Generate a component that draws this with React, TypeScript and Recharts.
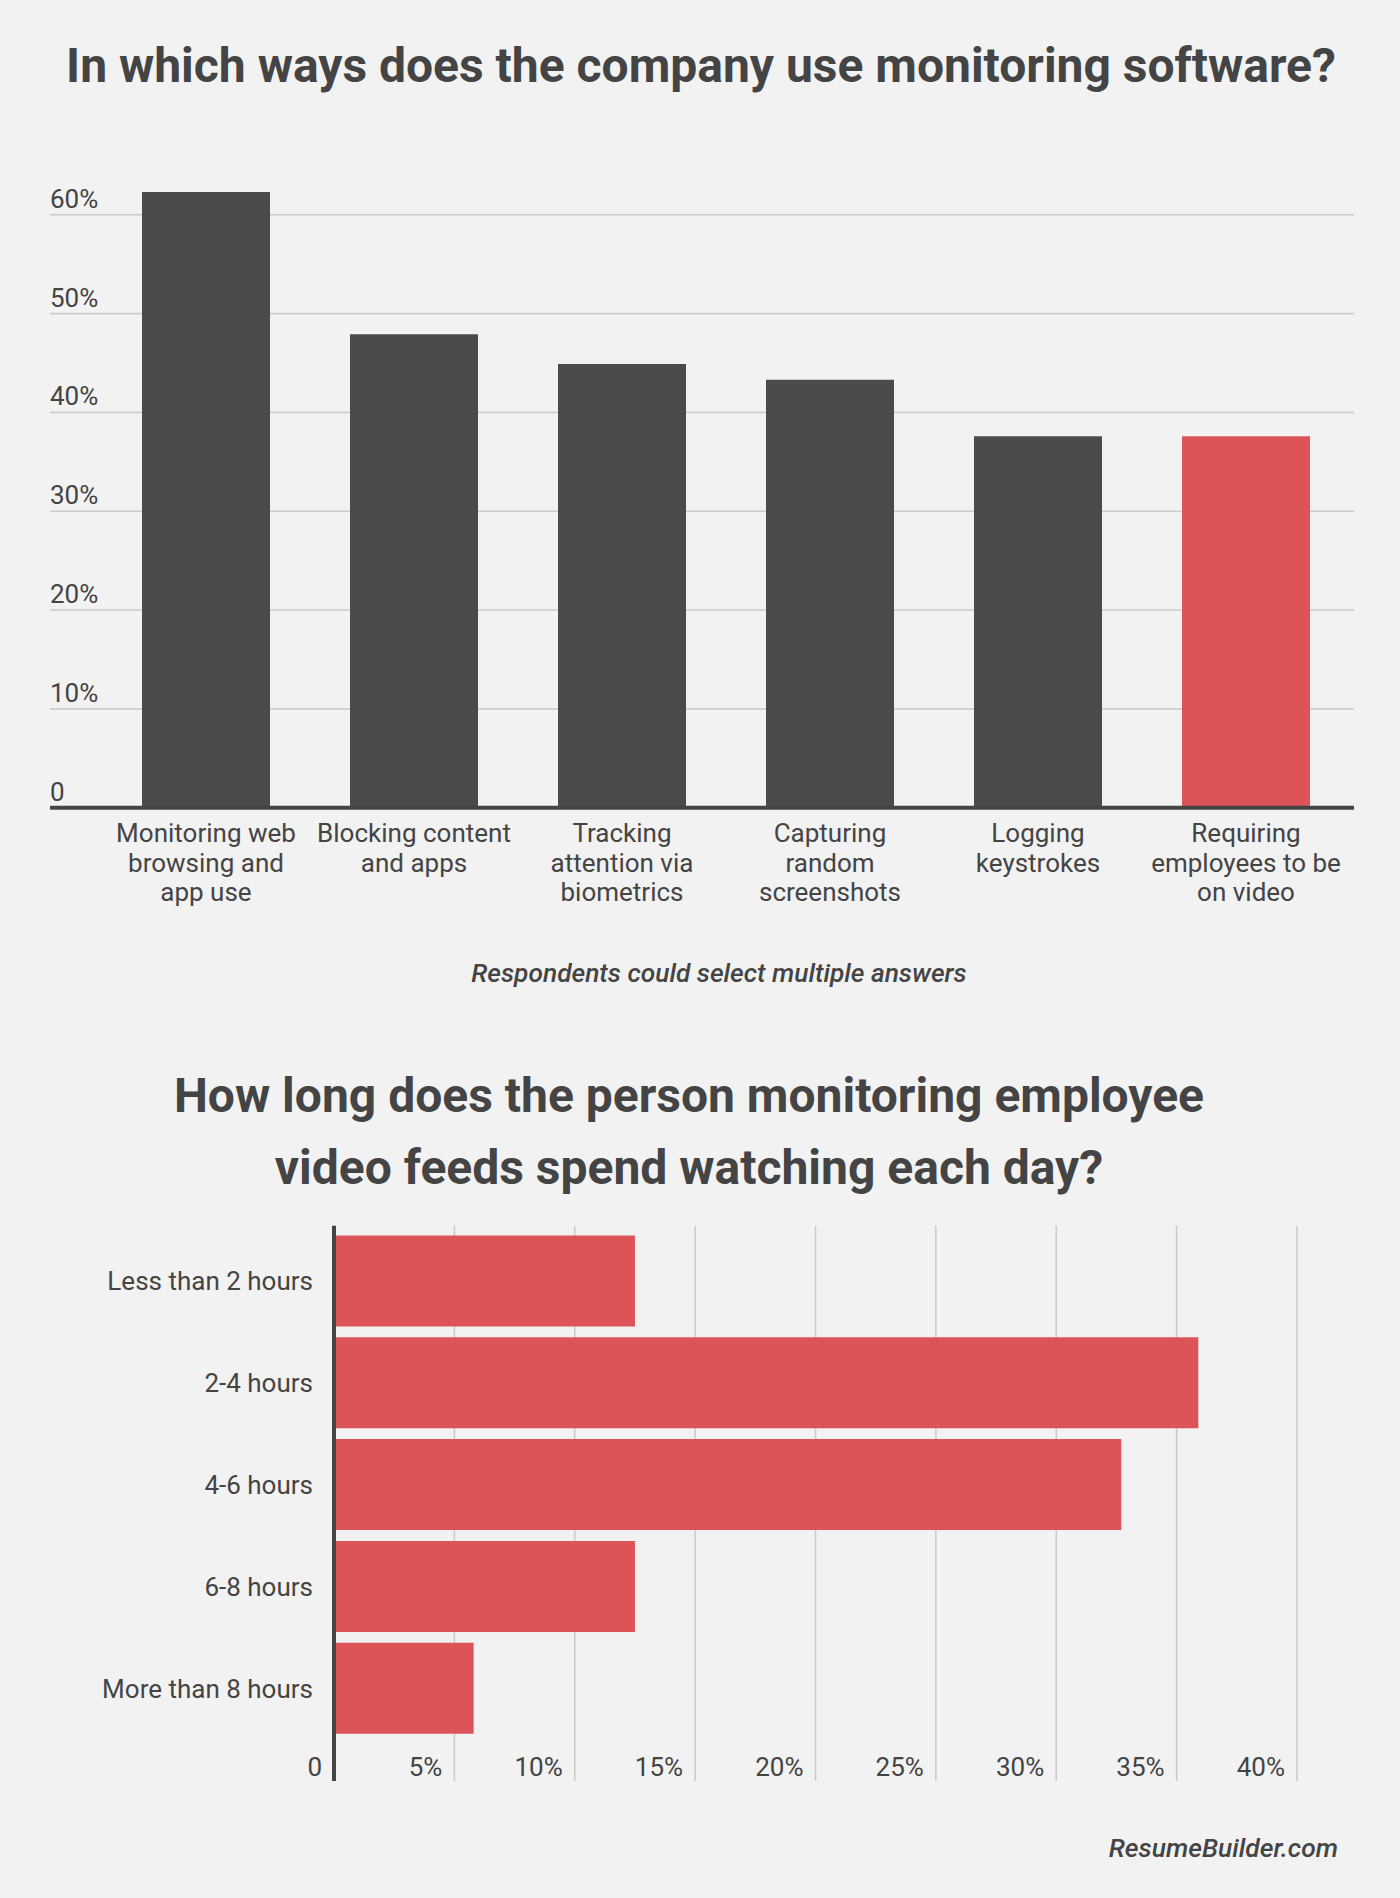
import { BarChart, Bar, XAxis, YAxis, CartesianGrid, Cell, ReferenceLine } from 'recharts'

// chart 1: ways the company uses monitoring software (% of respondents)
const usageCategories = [
  'Monitoring web\nbrowsing and\napp use',
  'Blocking content\nand apps',
  'Tracking\nattention via\nbiometrics',
  'Capturing\nrandom\nscreenshots',
  'Logging\nkeystrokes',
  'Requiring\nemployees to be\non video',
]
const usageValues = [62.3, 47.9, 44.9, 43.3, 37.6, 37.6]
const usageTicks = [0, 10, 20, 30, 40, 50, 60]

// chart 2: time spent watching video feeds each day (%)
const watchCategories = ['Less than 2 hours', '2-4 hours', '4-6 hours', '6-8 hours', 'More than 8 hours']
const watchValues = [12.5, 35.9, 32.7, 12.5, 5.8]
const watchTicks = [0, 5, 10, 15, 20, 25, 30, 35, 40]

const DARK = '#4b4b4b'
const RED = '#dc5457'
const TEXT = '#444444'
const GRID = '#cccccc'
const BG = '#f2f2f2'
const FONT = 'Roboto, "Noto Sans", sans-serif'

const pct = (v: number) => (v === 0 ? '0' : `${v}%`)

const usageData = usageCategories.map((name, i) => ({ name, value: usageValues[i] }))
const watchData = watchCategories.map((name, i) => ({ name, value: watchValues[i] }))

function UsageXTick(props: any) {
  const { x, payload } = props
  const lines = String(payload.value).split('\n')
  return (
    <text x={x} y={842} textAnchor="middle" fill={TEXT} fontSize={26} fontFamily={FONT}>
      {lines.map((l, i) => (
        <tspan key={i} x={x} dy={i === 0 ? 0 : 29.5}>
          {l}
        </tspan>
      ))}
    </text>
  )
}

function UsageYTick(props: any) {
  const { y, payload } = props
  return (
    <text x={50} y={y - 7} textAnchor="start" fill={TEXT} fontSize={26} fontFamily={FONT}>
      {pct(payload.value)}
    </text>
  )
}

function WatchYTick(props: any) {
  const { y, payload } = props
  return (
    <text x={313} y={y + 9} textAnchor="end" fill={TEXT} fontSize={26} fontFamily={FONT}>
      {payload.value}
    </text>
  )
}

function WatchXTick(props: any) {
  const { x, payload } = props
  return (
    <text x={x - 12} y={576} textAnchor="end" fill={TEXT} fontSize={26} fontFamily={FONT}>
      {pct(payload.value)}
    </text>
  )
}

export default function App() {
  return (
    <div style={{ position: 'relative', width: 1400, height: 1898, background: BG, overflow: 'hidden' }}>
      <style>{`body{margin:0;background:${BG}}`}</style>

      <div style={{ position: 'absolute', left: 0, top: 0 }}>
        <BarChart
          width={1400}
          height={930}
          data={usageData}
          margin={{ top: 165.4, right: 46, bottom: 0, left: 0 }}
        >
          <CartesianGrid vertical={false} horizontalValues={usageTicks} stroke={GRID} strokeWidth={1.6} />
          <XAxis
            dataKey="name"
            height={122.3}
            padding={{ left: 52, right: 4 }}
            axisLine={false}
            tickLine={false}
            interval={0}
            tick={(p: any) => <UsageXTick {...p} />}
          />
          <YAxis
            width={50}
            domain={[0, 65]}
            ticks={usageTicks}
            axisLine={false}
            tickLine={false}
            tick={(p: any) => <UsageYTick {...p} />}
          />
          <Bar dataKey="value" barSize={128} isAnimationActive={false}>
            {usageData.map((_, i) => (
              <Cell key={i} fill={i === usageData.length - 1 ? RED : DARK} />
            ))}
          </Bar>
          <ReferenceLine y={0} stroke={TEXT} strokeWidth={4} />
        </BarChart>
      </div>

      <div style={{ position: 'absolute', left: 0, top: 1200 }}>
        <BarChart
          width={1400}
          height={600}
          data={watchData}
          layout="vertical"
          margin={{ top: 25.8, right: 103, bottom: 18, left: 0 }}
        >
          <CartesianGrid horizontal={false} verticalValues={watchTicks} stroke={GRID} strokeWidth={1.6} />
          <XAxis
            type="number"
            domain={[0, 40]}
            ticks={watchTicks}
            height={1}
            axisLine={false}
            tickLine={false}
            tick={(p: any) => <WatchXTick {...p} />}
          />
          <YAxis
            type="category"
            dataKey="name"
            width={334}
            padding={{ top: 4.7, bottom: 41.5 }}
            axisLine={false}
            tickLine={false}
            interval={0}
            tick={(p: any) => <WatchYTick {...p} />}
          />
          <Bar dataKey="value" fill={RED} barSize={91} isAnimationActive={false} />
          <ReferenceLine x={0} stroke={TEXT} strokeWidth={4} />
        </BarChart>
      </div>

      <svg
        width={1400}
        height={1898}
        style={{ position: 'absolute', left: 0, top: 0, pointerEvents: 'none' }}
        fontFamily={FONT}
      >
        <text x={701} y={81.7} textAnchor="middle" fill={TEXT} fontSize={48} fontWeight={700}>
          In which ways does the company use monitoring software?
        </text>
        <text x={719} y={982} textAnchor="middle" fill={TEXT} fontSize={26.3} fontWeight={500} fontStyle="italic">
          Respondents could select multiple answers
        </text>
        <text x={689} y={1111.7} textAnchor="middle" fill={TEXT} fontSize={48} fontWeight={700}>
          How long does the person monitoring employee
        </text>
        <text x={689} y={1184} textAnchor="middle" fill={TEXT} fontSize={48} fontWeight={700}>
          video feeds spend watching each day?
        </text>
        <text x={1338} y={1857} textAnchor="end" fill={TEXT} fontSize={26.4} fontWeight={500} fontStyle="italic">
          ResumeBuilder.com
        </text>
      </svg>
    </div>
  )
}
